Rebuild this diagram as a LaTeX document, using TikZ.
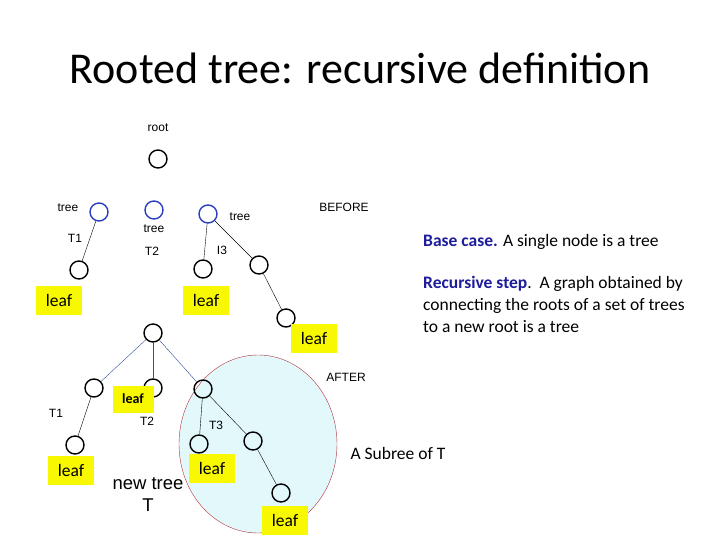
\documentclass[tikz,border=0pt]{standalone}
\usepackage{fontspec}
\setmainfont{Carlito}
\newfontfamily\arialfont{Liberation Sans}
\usepackage{tikz}
\usetikzlibrary{shapes.geometric, positioning}
\definecolor{tree-blue}{HTML}{2A3FC0}
\definecolor{edge-blue}{HTML}{2E4C9C}
\definecolor{leaf-yellow}{HTML}{F8F800}
\definecolor{sub-cyan}{HTML}{E2F8FB}
\definecolor{sub-red}{HTML}{B2343C}
\definecolor{head-blue}{HTML}{1C1C9C}

\begin{document}
\begin{tikzpicture}[x=1pt, y=-1pt,
    vert/.style={circle, draw, line width=1.4pt, minimum size=18pt, inner sep=0pt},
    sub/.style={vert, draw=tree-blue},
    leafbox/.style={fill=leaf-yellow, minimum width=46pt, minimum height=29pt, inner sep=0pt, font=\fontsize{17.5}{20}\selectfont},
    tag/.style={font=\arialfont\fontsize{12}{14}\selectfont, inner sep=0pt},
    note/.style={font=\fontsize{17.5}{22}\selectfont, align=left, inner sep=0pt}
]
    \path[use as bounding box] (0,0) rectangle (720,540);

    \node (title) at (360,68) {\fontsize{44}{50}\selectfont Rooted tree: recursive definition};

    % before
    \node (root) [vert] at (158,159) {};
    \node (tone) [sub] at (99,212) {};
    \node (ttwo) [sub] at (154,210) {};
    \node (tthree) [sub] at (208,214) {};
    \node (oneleaf) [vert] at (79,270) {};
    \node (threeleaf) [vert] at (203,269) {};
    \node (threekid) [vert] at (259,265) {};
    \node (threegrand) [vert] at (286,318) {};

    \draw [thin] (tone) -- (oneleaf);
    \draw [thin] (tthree) -- (threeleaf);
    \draw [thin] (tthree) -- (threekid);
    \draw [thin] (threekid) -- (threegrand);

    \node (rootlbl) [tag, above=17pt of root] {root};
    \node (tonelbl) [tag] at (68,208) {tree};
    \node (ttwolbl) [tag] at (154,229) {tree};
    \node (tthreelbl) [tag] at (240,217) {tree};
    \node (tonename) [tag] at (75,238) {T1};
    \node (ttwoname) [tag] at (152,251) {T2};
    \node (tthreename) [tag] at (222,250) {I3};
    \node (before) [tag] at (344,207) {BEFORE};

    \node (leafa) [leafbox] at (59,300) {leaf};
    \node (leafb) [leafbox] at (206,300) {leaf};
    \node (leafc) [leafbox] at (314,338) {leaf};

    % after
    \node (subtree) [ellipse, draw=sub-red, fill=sub-cyan, thin, minimum width=158pt, minimum height=178pt] at (258,444) {};

    \node (newroot) [vert] at (153,333) {};
    \node (aone) [vert] at (94,388) {};
    \node (atwo) [vert] at (153,388) {};
    \node (athree) [vert] at (203,389) {};
    \node (aoneleaf) [vert] at (75,445) {};
    \node (athreeleaf) [vert] at (199,444) {};
    \node (athreekid) [vert] at (253,441) {};
    \node (athreegrand) [vert] at (281,493) {};

    \draw [thin, edge-blue] (newroot) -- (aone);
    \draw [thin, edge-blue] (newroot) -- (atwo);
    \draw [thin, edge-blue] (newroot) -- (athree);
    \draw [thin] (aone) -- (aoneleaf);
    \draw [thin] (athree) -- (athreeleaf);
    \draw [thin] (athree) -- (athreekid);
    \draw [thin] (athreekid) -- (athreegrand);

    \node (aonename) [tag] at (56,413) {T1};
    \node (atwoname) [tag] at (147,421) {T2};
    \node (athreename) [tag] at (216,425) {T3};
    \node (after) [tag] at (346,377) {AFTER};

    \node (leafd) [leafbox, minimum width=41pt, minimum height=27pt, font=\bfseries\fontsize{14}{16}\selectfont] at (133,399) {leaf};
    \node (leafe) [leafbox] at (71,470) {leaf};
    \node (leaff) [leafbox] at (212,468) {leaf};
    \node (leafg) [leafbox] at (285,520) {leaf};

    \node (newtree) [font=\arialfont\fontsize{18.5}{22}\selectfont, align=center] at (148,495) {new tree\\T};
    \node (subname) [font=\fontsize{17.5}{20}\selectfont] at (398,453) {A Subree of T};

    % definition
    \node (base) [note, anchor=west] at (423,242) {\textcolor{head-blue}{\textbf{Base case.}} A single node is a tree};
    \node (step) [note, anchor=north west] at (423,276) {\textcolor{head-blue}{\textbf{Recursive step}}.\ \ A graph obtained by\\connecting the roots of a set of trees\\to a new root is a tree};
\end{tikzpicture}
\end{document}
